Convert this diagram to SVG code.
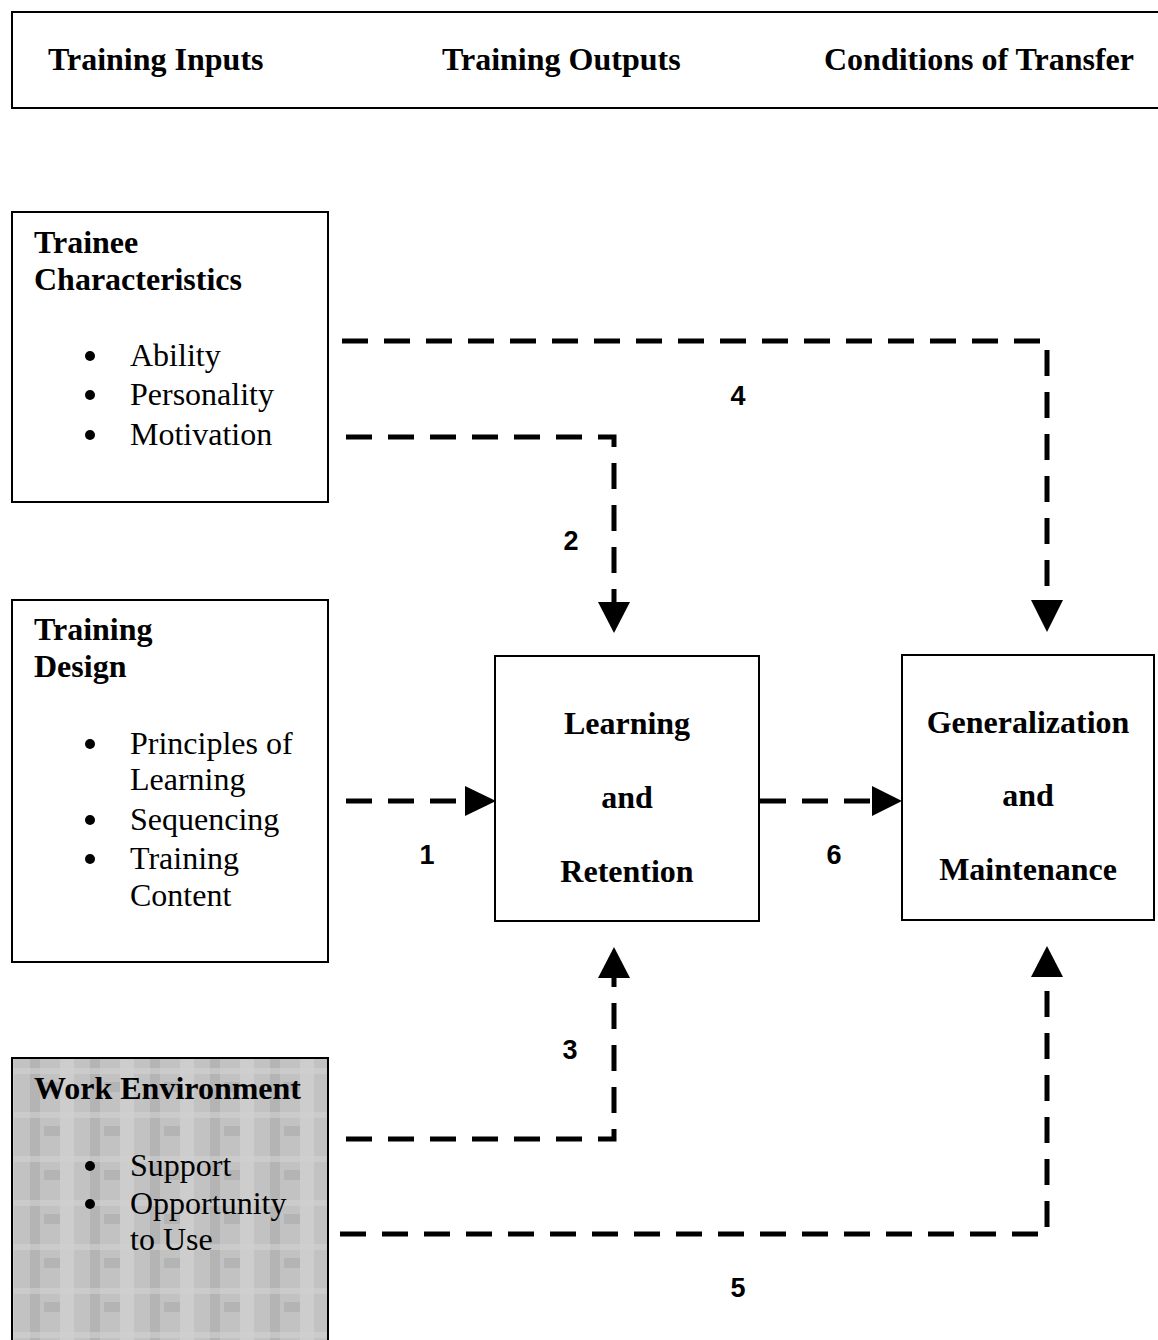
<svg xmlns="http://www.w3.org/2000/svg" width="1158" height="1340" viewBox="0 0 1158 1340">
<style>
.box{fill:#fff;stroke:#000;stroke-width:2}
.hd{font-family:"Liberation Serif",serif;font-weight:bold;font-size:32px;fill:#000}
.t{font-family:"Liberation Serif",serif;font-size:32px;fill:#000}
.tb{font-family:"Liberation Serif",serif;font-weight:bold;font-size:32px;fill:#000}
.c{text-anchor:middle}
.bl{fill:#000}
.ln{fill:none;stroke:#000;stroke-width:5;stroke-dasharray:26 16}
.ar{fill:#000}
.num{font-family:"Liberation Sans",sans-serif;font-weight:bold;font-size:27px;fill:#000;text-anchor:middle}
</style>
<defs>
<pattern id="tex" width="60" height="44" patternUnits="userSpaceOnUse">
<rect width="60" height="44" fill="#c2c2c2"/>
<rect x="0" y="0" width="14" height="44" fill="#cdcdcd"/>
<rect x="30" y="0" width="10" height="44" fill="#b4b4b4"/>
<rect x="0" y="12" width="60" height="6" fill="#d0d0d0" opacity="0.6"/>
<rect x="44" y="26" width="16" height="10" fill="#aaaaaa" opacity="0.6"/>
</pattern>
</defs>
<rect width="1158" height="1340" fill="#fff"/>
<g id="header">
<path d="M1158 12 H12 V108 H1158" fill="none" stroke="#000" stroke-width="2"/>
<text class="hd" x="48" y="70">Training Inputs</text>
<text class="hd" x="442" y="70">Training Outputs</text>
<text class="hd" x="824" y="70">Conditions of Transfer</text>
</g>
<g id="trainee">
<rect class="box" x="12" y="212" width="316" height="290"/>
<text class="tb" x="34" y="253">Trainee</text>
<text class="tb" x="34" y="290">Characteristics</text>
<circle class="bl" cx="90" cy="356" r="5"/><text class="t" x="130" y="366">Ability</text>
<circle class="bl" cx="90" cy="395" r="5"/><text class="t" x="130" y="405">Personality</text>
<circle class="bl" cx="90" cy="435" r="5"/><text class="t" x="130" y="445">Motivation</text>
</g>
<g id="design">
<rect class="box" x="12" y="600" width="316" height="362"/>
<text class="tb" x="34" y="640">Training</text>
<text class="tb" x="34" y="677">Design</text>
<circle class="bl" cx="90" cy="744" r="5"/><text class="t" x="130" y="754">Principles of</text>
<text class="t" x="130" y="790">Learning</text>
<circle class="bl" cx="90" cy="820" r="5"/><text class="t" x="130" y="830">Sequencing</text>
<circle class="bl" cx="90" cy="859" r="5"/><text class="t" x="130" y="869">Training</text>
<text class="t" x="130" y="906">Content</text>
</g>
<g id="work">
<rect x="12" y="1058" width="316" height="290" fill="url(#tex)" stroke="#000" stroke-width="2"/>
<text class="tb" x="34" y="1099">Work Environment</text>
<circle class="bl" cx="90" cy="1166" r="5"/><text class="t" x="130" y="1176">Support</text>
<circle class="bl" cx="90" cy="1204" r="5"/><text class="t" x="130" y="1214">Opportunity</text>
<text class="t" x="130" y="1250">to Use</text>
</g>
<g id="learning">
<rect class="box" x="495" y="656" width="264" height="265"/>
<text class="tb c" x="627" y="734">Learning</text>
<text class="tb c" x="627" y="808">and</text>
<text class="tb c" x="627" y="882">Retention</text>
</g>
<g id="generalization">
<rect class="box" x="902" y="655" width="252" height="265"/>
<text class="tb c" x="1028" y="733">Generalization</text>
<text class="tb c" x="1028" y="806">and</text>
<text class="tb c" x="1028" y="880">Maintenance</text>
</g>
<g id="connectors">
<path class="ln" d="M342 341 H1047 V600"/>
<polygon class="ar" points="1031,600 1063,600 1047,632"/>
<text class="num" x="738" y="405">4</text>
<path class="ln" d="M346 437 H614 V602"/>
<polygon class="ar" points="598,602 630,602 614,633"/>
<text class="num" x="571" y="550">2</text>
<path class="ln" d="M346 801 H465"/>
<polygon class="ar" points="465,786 465,816 496,801"/>
<text class="num" x="427" y="864">1</text>
<path class="ln" d="M760 801 H872"/>
<polygon class="ar" points="872,786 872,816 902,801"/>
<text class="num" x="834" y="864">6</text>
<path class="ln" d="M346 1139 H614 V978"/>
<polygon class="ar" points="598,978 630,978 614,947"/>
<text class="num" x="570" y="1059">3</text>
<path class="ln" d="M340 1234 H1047 V977"/>
<polygon class="ar" points="1031,977 1063,977 1047,946"/>
<text class="num" x="738" y="1297">5</text>
</g>
</svg>
